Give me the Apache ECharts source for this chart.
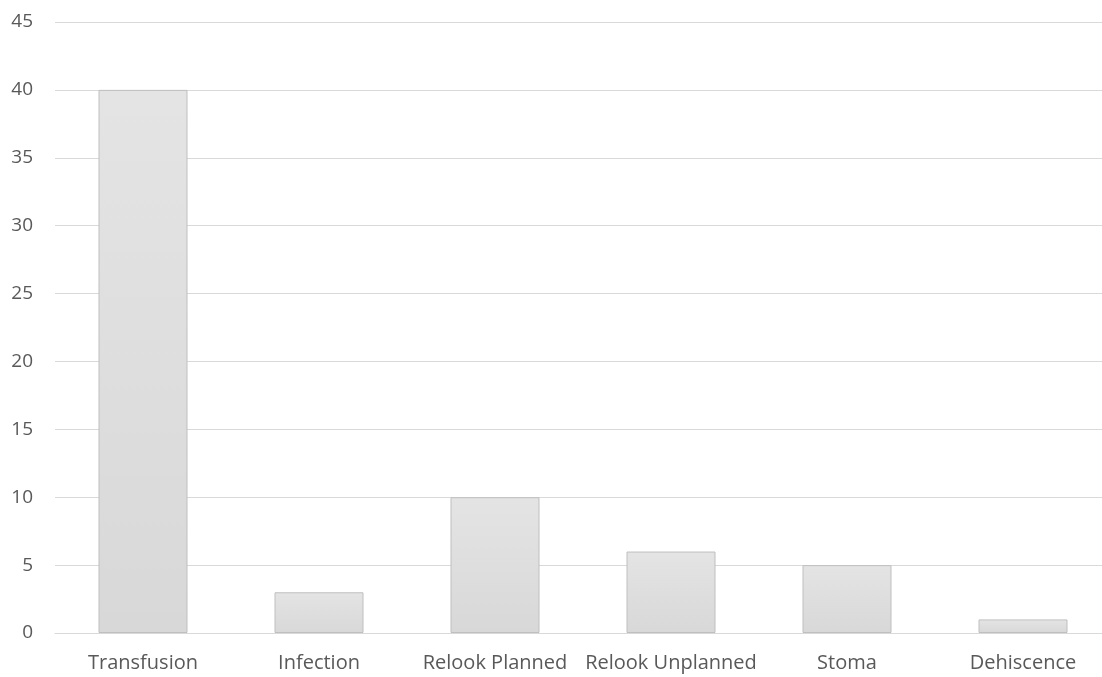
<!DOCTYPE html>
<html>
<head>
<meta charset="utf-8">
<script src="https://cdn.jsdelivr.net/npm/echarts@6/dist/echarts.min.js"></script>
<style>
  html, body { margin: 0; padding: 0; background: #ffffff; }
  #chart { width: 1102px; height: 677px; }
</style>
</head>
<body>
<div id="chart"></div>
<script>
// Complication categories and their counts
const categories = ['Transfusion', 'Infection', 'Relook Planned', 'Relook Unplanned', 'Stoma', 'Dehiscence'];
const counts = [40, 3, 10, 6, 5, 1];
const yTicks = [0, 5, 10, 15, 20, 25, 30, 35, 40, 45];

const chart = echarts.init(document.getElementById('chart'), null, { renderer: 'canvas' });

const font = '"Open Sans", "Noto Sans", sans-serif';

chart.setOption({
  animation: false,
  backgroundColor: '#ffffff',
  grid: {
    left: 55, width: 1056, top: 22, bottom: 44,
    containLabel: false,
    outerBoundsMode: 'none'
  },
  xAxis: {
    type: 'category',
    data: categories,
    axisLine: { show: true, lineStyle: { color: '#d9d9d9', width: 1 } },
    axisTick: { show: false },
    axisLabel: {
      interval: 0,
      hideOverlap: false,
      color: '#595959', fontSize: 20, fontFamily: font, margin: 20
    }
  },
  yAxis: {
    type: 'value',
    min: yTicks[0],
    max: yTicks[yTicks.length - 1],
    interval: 5,
    axisLine: { show: false },
    axisTick: { show: false },
    axisLabel: { color: '#595959', fontSize: 19, fontFamily: font, margin: 22 },
    splitLine: { lineStyle: { color: '#d9d9d9', width: 1 } }
  },
  series: [{
    type: 'bar',
    data: counts,
    barWidth: 89,
    itemStyle: {
      color: new echarts.graphic.LinearGradient(0, 0, 0, 1, [
        { offset: 0, color: '#e4e4e4' },
        { offset: 1, color: '#d8d8d8' }
      ]),
      borderColor: '#bfbfbf',
      borderWidth: 1
    }
  }]
});
</script>
</body>
</html>
